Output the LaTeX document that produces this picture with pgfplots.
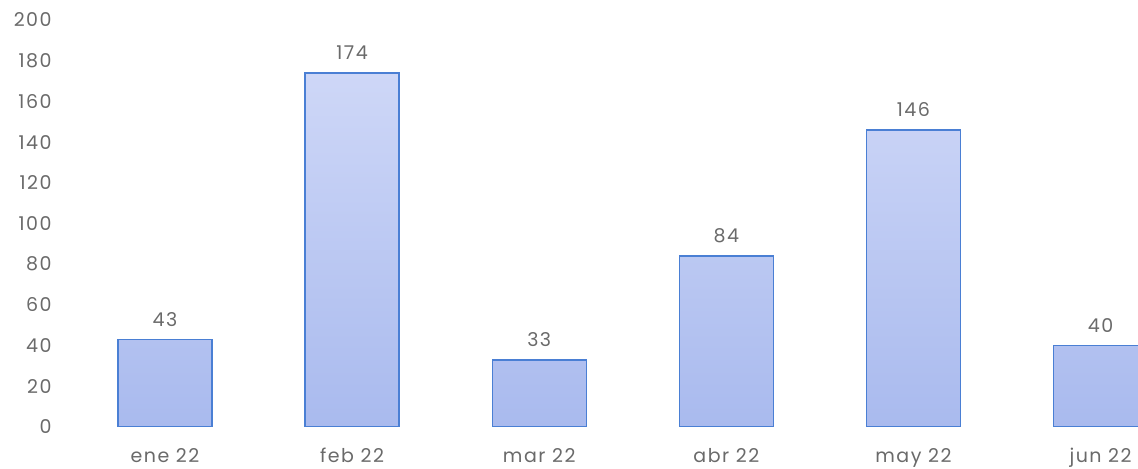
\documentclass[border=0pt]{standalone}
\usepackage{fontspec}
\setmainfont{Poppins}[LetterSpace=8]
\usepackage{pgfplots}
\pgfplotsset{compat=1.18}
\definecolor{tickgray}{HTML}{6A6A6A}
\definecolor{bartop}{HTML}{CED7F7}
\definecolor{barbot}{HTML}{A9BAEE}
\definecolor{barline}{HTML}{4A7FD4}
\begin{document}
\begin{tikzpicture}
\begin{axis}[
  at={(30pt,21pt)}, anchor=south west,
  scale only axis,
  width=539pt, height=213.5pt,
  xmin=-0.561, xmax=5.2,
  ymin=0, ymax=209.8,
  axis line style={draw=none},
  ytick={0,20,...,200},
  xtick={0,1,2,3,4,5},
  xticklabels={ene 22,feb 22,mar 22,abr 22,may 22,jun 22},
  major tick length=0pt,
  tick style={draw=none},
  ticklabel style={font=\fontsize{9.5}{11}\selectfont, text=tickgray},
  /pgf/number format/assume math mode=true,
  yticklabel style={anchor=east, inner sep=0pt, xshift=-4pt},
  xticklabel style={anchor=base, inner sep=0pt, yshift=-17.8pt},
  ybar, bar width=47pt,
  nodes near coords,
  nodes near coords style={font=\fontsize{9.5}{11}\selectfont, text=tickgray, yshift=3pt},
  clip=true,
]
\addplot[top color=bartop, bottom color=barbot, draw=barline, line width=0.7pt]
  coordinates {(0,43) (1,174) (2,33) (3,84) (4,146) (5,40)};
\end{axis}
\pgfresetboundingbox
\path (0,0) rectangle (569pt,234.5pt);
\end{tikzpicture}
\end{document}
